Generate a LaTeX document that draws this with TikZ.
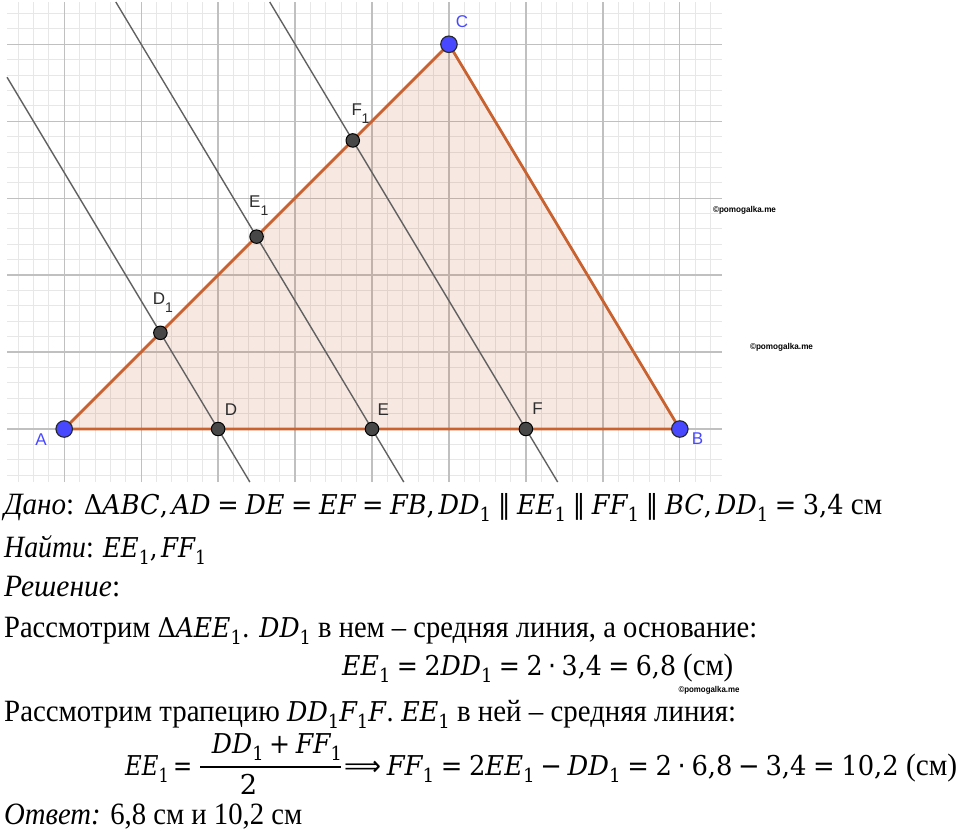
\documentclass[tikz,border=0pt]{standalone}
\usepackage{fontspec}
\usepackage{graphicx}
\setmainfont{Liberation Serif}
\newfontfamily\gMath{DejaVu Serif}[Scale=0.88]
\newfontfamily\gSym{DejaVu Sans}[Scale=0.88]
\newfontfamily\gLab{Liberation Sans}
\definecolor{gminor}{RGB}{231,231,231}
\definecolor{gmajor}{RGB}{192,192,192}
\definecolor{triC}{RGB}{202,98,48}
\definecolor{ptblue}{RGB}{72,72,255}
\newcommand\gI[1]{{\gMath\itshape #1}}
\newcommand\gN[1]{{\gMath #1}}
\newcommand\gS{\raisebox{-7pt}{\fontsize{22}{22}\selectfont\gMath 1}}
\newcommand\gEq{\hspace{7pt}{\gMath =}\hspace{7pt}}
\newcommand\gPar{\hspace{7pt}{\gSym ∥}\hspace{7pt}}
\newcommand\gDot{\hspace{6pt}{\gSym ⋅}\hspace{6pt}}
\newcommand\gMin{\hspace{6pt}{\gSym −}\hspace{6pt}}
\newcommand\gPlus{\hspace{6pt}{\gMath +}\hspace{6pt}}
\newcommand\gImp{\hspace{1pt}{\gSym ⟹}\hspace{6pt}}
\tikzset{
  minorg/.style={draw=gminor, line width=0.9pt},
  majorg/.style={draw=gmajor, line width=1.3pt},
  triedge/.style={draw=triC, line width=2.8pt, line join=round},
  trifill/.style={fill=triC, fill opacity=0.14},
  parl/.style={draw=black!62, line width=1.4pt},
  bpt/.style={circle, fill=ptblue, draw=black!85, line width=1.1pt, minimum size=16.5pt, inner sep=0pt},
  gpt/.style={circle, fill=black!72, draw=black, line width=1pt, minimum size=13.5pt, inner sep=0pt},
  lab/.style={font=\gLab\fontsize{17}{17}\selectfont, inner sep=0pt, text=black!82},
  blab/.style={lab, text=ptblue},
  sublab/.style={font=\gLab\fontsize{14}{14}\selectfont, inner sep=0pt, text=black!82},
  wm/.style={font=\gLab\bfseries\fontsize{8.5}{9}\selectfont, inner sep=0pt, anchor=center},
  txt/.style={anchor=base west, inner sep=0pt, font=\fontsize{31}{37}\selectfont},
  txtc/.style={anchor=base, inner sep=0pt, font=\fontsize{31}{37}\selectfont},
  fracbar/.style={draw=black, line width=1.6pt}
}
\begin{document}
\begin{tikzpicture}[x=1pt,y=-1pt]
\useasboundingbox (0,0) rectangle (960,836);
\fill[white] (0,0) rectangle (960,836);
% ---------------- geometry (grid units) ----------------
\begin{scope}[shift={(64.2pt,-429pt)}, x=76.95pt, y=76.95pt]
  \def\xmin{-0.743}\def\xmax{8.542}\def\ymin{-0.689}\def\ymax{5.549}
  \foreach \i in {-3,...,42} {\draw[minorg] (\i/5,\ymin) -- (\i/5,\ymax);}
  \foreach \j in {-3,...,27} {\draw[minorg] (\xmin,\j/5) -- (\xmax,\j/5);}
  \foreach \i in {0,...,8} {\draw[majorg] (\i,\ymin) -- (\i,\ymax);}
  \foreach \j in {0,...,5} {\draw[majorg] (\xmin,\j) -- (\xmax,\j);}
  \coordinate (A) at (0,0);
  \coordinate (B) at (8,0);
  \coordinate (C) at (5,5);
  \coordinate (D) at (2,0);
  \coordinate (E) at (4,0);
  \coordinate (F) at (6,0);
  \coordinate (D1) at (1.25,1.25);
  \coordinate (E1) at (2.5,2.5);
  \coordinate (F1) at (3.75,3.75);
  \coordinate (Dlo) at (2.413,\ymin);
  \coordinate (Dhi) at (\xmin,4.572);
  \coordinate (Elo) at (4.413,\ymin);
  \coordinate (Ehi) at (0.671,\ymax);
  \coordinate (Flo) at (6.413,\ymin);
  \coordinate (Fhi) at (2.671,\ymax);
  \fill[trifill] (A) -- (B) -- (C) -- cycle;
  \draw[parl] (Dlo) -- (Dhi);
  \draw[parl] (Elo) -- (Ehi);
  \draw[parl] (Flo) -- (Fhi);
  \draw[triedge] (A) -- (B) -- (C) -- cycle;
  \node[gpt] (pD) at (D) {};
  \node[gpt] (pE) at (E) {};
  \node[gpt] (pF) at (F) {};
  \node[gpt] (pD1) at (D1) {};
  \node[gpt] (pE1) at (E1) {};
  \node[gpt] (pF1) at (F1) {};
  \node[bpt] (pA) at (A) {};
  \node[bpt] (pB) at (B) {};
  \node[bpt] (pC) at (C) {};
\end{scope}
% ---------------- point labels ----------------
\node[blab] (lA) at (41,440) {A};
\node[blab] (lB) at (697.5,439) {B};
\node[blab] (lC) at (462,22) {C};
\node[lab] (lD) at (231,409.5) {D};
\node[lab] (lE) at (383.3,409.5) {E};
\node[lab] (lF) at (537.5,409) {F};
\node[lab] (lD1) at (159,299) {D};
\node[sublab] (lD1s) at (169,307.5) {1};
\node[lab] (lE1) at (254.7,201.7) {E};
\node[sublab] (lE1s) at (264.5,210.5) {1};
\node[lab] (lF1) at (356.7,109.7) {F};
\node[sublab] (lF1s) at (365.5,118.5) {1};
% ---------------- watermarks ----------------
\node[wm] (w1) at (744.5,210) {\resizebox{63pt}{\height}{©pomogalka.me}};
\node[wm] (w2) at (781.5,347) {\resizebox{63pt}{\height}{©pomogalka.me}};
\node[wm] (w3) at (709,690) {\resizebox{61pt}{\height}{©pomogalka.me}};
% ---------------- text ----------------
\node[txt] (t1) at (4,514) {\resizebox{878pt}{\height}{{\itshape Дано}: \gN{Δ}\gI{ABC}\gN{,}\hspace{4pt}\gI{AD}\gEq\gI{DE}\gEq\gI{EF}\gEq\gI{FB}\gN{,}\hspace{4pt}\gI{DD}\gS\gPar\gI{EE}\gS\gPar\gI{FF}\gS\gPar\gI{BC}\gN{,}\hspace{4pt}\gI{DD}\gS\gEq\gN{3,4} см}};
\node[txt] (t2) at (4,557) {\resizebox{202pt}{\height}{{\itshape Найти}: \gI{EE}\gS\gN{,}\hspace{4pt}\gI{FF}\gS}};
\node[txt] (t3) at (4,596) {\resizebox{116pt}{\height}{{\itshape Решение}:}};
\node[txt] (t4) at (4,637) {\resizebox{753pt}{\height}{Рассмотрим \gN{Δ}\gI{AEE}\gS\gN{.} \gI{DD}\gS{} в нем – средняя линия, а основание:}};
\node[txt] (t5) at (342,675) {\resizebox{391pt}{\height}{\gI{EE}\gS\gEq\gN{2}\gI{DD}\gS\gEq\gN{2}\gDot\gN{3,4}\gEq\gN{6,8} (см)}};
\node[txt] (t6) at (4,721) {\resizebox{732pt}{\height}{Рассмотрим трапецию \gI{DD}\gS\gI{F}\gS\gI{F}\gN{.} \gI{EE}\gS{} в ней – средняя линия:}};
\node[txt] (t7a) at (125,775) {\resizebox{67pt}{\height}{\gI{EE}\gS\hspace{5pt}{\gMath =}}};
\node[txtc] (t7n) at (277,753) {\resizebox{130pt}{\height}{\gI{DD}\gS\gPlus\gI{FF}\gS}};
\node[txtc] (t7d) at (248.5,794) {\gN{2}};
\coordinate (barL) at (200,767);
\coordinate (barR) at (341,767);
\draw[fracbar] (barL) -- (barR);
\node[txt] (t7b) at (343,775) {\resizebox{614pt}{\height}{\gImp\gI{FF}\gS\gEq\gN{2}\gI{EE}\gS\gMin\gI{DD}\gS\gEq\gN{2}\gDot\gN{6,8}\gMin\gN{3,4}\gEq\gN{10,2} (см)}};
\node[txt] (t8) at (4,824) {\resizebox{298pt}{\height}{{\itshape Ответ:} 6,8 см и 10,2 см}};
\end{tikzpicture}
\end{document}
